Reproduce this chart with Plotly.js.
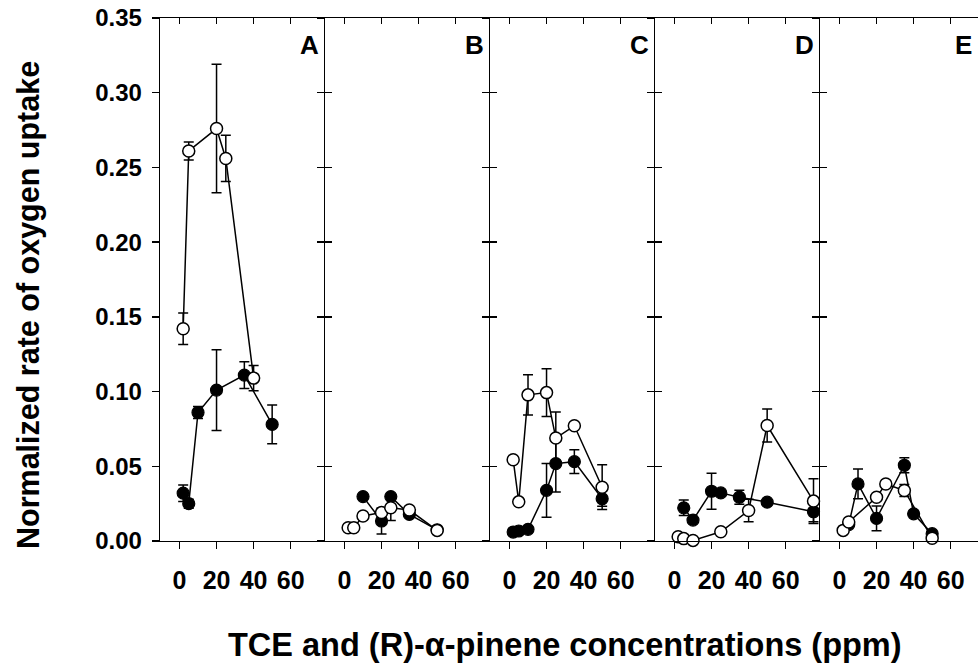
<!DOCTYPE html>
<html>
<head>
<meta charset="utf-8">
<script src="https://cdn.plot.ly/plotly-3.0.1.min.js"></script>
<style>
html, body { margin: 0; padding: 0; background: #fff; overflow: hidden; }
#chart { width: 978px; height: 665px; }
</style>
</head>
<body>
<div id="chart"></div>
<script>
// ---- data ----
const panelLabels = ["A", "B", "C", "D", "E"];
const xTickVals = [0, 20, 40, 60];
const xTickText = ["0", "20", "40", "60"];
const yTickVals = [0, 0.05, 0.10, 0.15, 0.20, 0.25, 0.30, 0.35];

// Panel A
const aFilledX = [2, 5, 10, 20, 35, 50];
const aFilledY = [0.032, 0.025, 0.086, 0.101, 0.111, 0.078];
const aFilledErr = [0.0055, 0.003, 0.004, 0.027, 0.009, 0.013];
const aOpenX = [2, 5, 20, 25, 40];
const aOpenY = [0.142, 0.261, 0.276, 0.256, 0.109];
const aOpenErr = [0.0105, 0.006, 0.043, 0.0155, 0.0085];

// Panel B
const bFilledX = [10, 20, 25, 35, 50];
const bFilledY = [0.0297, 0.0134, 0.0297, 0.0178, 0.0075];
const bFilledErr = [0, 0.0087, 0, 0, 0];
const bOpenX = [2, 5, 10, 20, 25, 35, 50];
const bOpenY = [0.0089, 0.0089, 0.0167, 0.019, 0.0223, 0.0207, 0.0071];
const bOpenErr = [0, 0, 0, 0, 0.0085, 0, 0];

// Panel C
const cFilledX = [2, 5, 10, 20, 25, 35, 50];
const cFilledY = [0.006, 0.0067, 0.0078, 0.0339, 0.0518, 0.0531, 0.0283];
const cFilledErr = [0, 0, 0, 0.018, 0.019, 0.008, 0.005];
const cOpenX = [2, 5, 10, 20, 25, 35, 50];
const cOpenY = [0.0544, 0.0262, 0.0978, 0.0993, 0.0689, 0.0771, 0.036];
const cOpenErr = [0, 0, 0.0134, 0.016, 0.0174, 0, 0.015];

// Panel D
const dFilledX = [5, 10, 20, 25, 35, 50, 75];
const dFilledY = [0.0222, 0.014, 0.0333, 0.0322, 0.0293, 0.026, 0.0196];
const dFilledErr = [0.0052, 0, 0.012, 0, 0.0047, 0, 0.0067];
const dOpenX = [2, 5, 10, 25, 40, 50, 75];
const dOpenY = [0.0029, 0.0016, 0.0004, 0.0062, 0.0204, 0.0773, 0.0267];
const dOpenErr = [0, 0, 0, 0.002, 0.0075, 0.011, 0.015];

// Panel E
const eFilledX = [5, 10, 20, 35, 40, 50];
const eFilledY = [0.011, 0.0382, 0.0151, 0.0507, 0.0182, 0.0049];
const eFilledErr = [0, 0.010, 0.0083, 0.005, 0, 0];
const eOpenX = [2, 5, 20, 25, 35, 50];
const eOpenY = [0.0071, 0.0127, 0.0293, 0.0382, 0.0338, 0.0018];
const eOpenErr = [0, 0, 0, 0, 0.004, 0];

const panels = [
  {fx: aFilledX, fy: aFilledY, fe: aFilledErr, ox: aOpenX, oy: aOpenY, oe: aOpenErr},
  {fx: bFilledX, fy: bFilledY, fe: bFilledErr, ox: bOpenX, oy: bOpenY, oe: bOpenErr},
  {fx: cFilledX, fy: cFilledY, fe: cFilledErr, ox: cOpenX, oy: cOpenY, oe: cOpenErr},
  {fx: dFilledX, fy: dFilledY, fe: dFilledErr, ox: dOpenX, oy: dOpenY, oe: dOpenErr},
  {fx: eFilledX, fy: eFilledY, fe: eFilledErr, ox: eOpenX, oy: eOpenY, oe: eOpenErr}
];

// ---- layout geometry ----
const W = 978, H = 665;
const mL = 160, mT = 18, mB = 124;
const plotW = W - mL;          // 818
const panelPx = 165;
const xMin = -10.5, xMaxFull = 78.5;
const pxPerUnit = panelPx / (xMaxFull - xMin);
const LW = 1.3;

const fontMain = "Liberation Sans, Arial, Helvetica, sans-serif";

const traces = [];
const layout = {
  width: W, height: H,
  margin: {l: mL, r: 0, t: mT, b: mB, pad: 0},
  paper_bgcolor: "#fff", plot_bgcolor: "rgba(0,0,0,0)",
  showlegend: false,
  annotations: []
};

const toErr = arr => arr.map(v => (v > 0 ? v : NaN));

panels.forEach((p, i) => {
  const n = i + 1;
  const xs = n === 1 ? "" : String(n);
  const topN = n + 5;
  const d0 = (i * panelPx) / plotW;
  const d1 = Math.min(1, ((i + 1) * panelPx) / plotW);
  const widthPx = (d1 - d0) * plotW;
  const xMax = xMin + widthPx / pxPerUnit;

  traces.push({
    type: "scatter", mode: "lines+markers",
    x: p.fx, y: p.fy,
    xaxis: "x" + xs, yaxis: "y" + xs,
    line: {color: "#000", width: 1.5},
    marker: {symbol: "circle", size: 12, color: "#000", line: {color: "#000", width: 1.2}},
    error_y: {type: "data", array: toErr(p.fe), visible: true, color: "#000", thickness: 1.5, width: 5},
    cliponaxis: false, hoverinfo: "x+y"
  });
  traces.push({
    type: "scatter", mode: "lines+markers",
    x: p.ox, y: p.oy,
    xaxis: "x" + xs, yaxis: "y" + xs,
    line: {color: "#000", width: 1.5},
    marker: {symbol: "circle", size: 12, color: "#fff", line: {color: "#000", width: 1.5}},
    error_y: {type: "data", array: toErr(p.oe), visible: true, color: "#000", thickness: 1.5, width: 5},
    cliponaxis: false, hoverinfo: "x+y"
  });
  // invisible helper trace so the top overlay axis is drawn
  traces.push({
    type: "scatter", mode: "markers", x: [xMin], y: [0],
    xaxis: "x" + topN, yaxis: "y" + xs,
    marker: {opacity: 0, size: 1}, hoverinfo: "skip"
  });

  layout["xaxis" + xs] = {
    domain: [d0, d1], range: [xMin, xMax], anchor: "y" + xs,
    showgrid: false, zeroline: false, showline: true, linecolor: "#000", linewidth: LW,
    ticks: "outside", ticklen: 7, tickwidth: LW, tickcolor: "#000",
    tickmode: "array", tickvals: xTickVals, ticktext: xTickText,
    ticklabelstandoff: 10,
    tickfont: {family: fontMain, size: 25, color: "#000", weight: "bold"},
    fixedrange: true
  };
  layout["xaxis" + topN] = {
    domain: [d0, d1], range: [xMin, xMax], overlaying: "x" + xs, anchor: "y" + xs, side: "top",
    showgrid: false, zeroline: false, showline: true, linecolor: "#000", linewidth: LW,
    ticks: "inside", ticklen: 6, tickwidth: LW, tickcolor: "#000",
    tickmode: "array", tickvals: xTickVals, showticklabels: false,
    fixedrange: true
  };
  layout["yaxis" + xs] = {
    domain: [0, 1], range: [0, 0.35], anchor: "x" + xs,
    showgrid: false, zeroline: false, showline: true, linecolor: "#000", linewidth: LW,
    mirror: false,
    ticks: "outside", ticklen: 7, tickwidth: LW, tickcolor: "#000",
    tickmode: "array", tickvals: yTickVals, tickformat: ".2f",
    showticklabels: i === 0,
    ticklabelstandoff: 5,
    tickfont: {family: fontMain, size: 24, color: "#000", weight: "bold"},
    fixedrange: true
  };
  if (i > 0) {
    // inward ticks on the shared boundary (crossing ticks)
    const ovN = i + 5;
    layout["yaxis" + ovN] = {
      domain: [0, 1], range: [0, 0.35], anchor: "x" + xs, overlaying: "y" + xs, side: "left",
      showgrid: false, zeroline: false, showline: false,
      ticks: "inside", ticklen: 7, tickwidth: LW, tickcolor: "#000",
      tickmode: "array", tickvals: yTickVals, showticklabels: false,
      fixedrange: true
    };
    traces.push({
      type: "scatter", mode: "markers", x: [xMin], y: [0],
      xaxis: "x" + xs, yaxis: "y" + ovN,
      marker: {opacity: 0, size: 1}, hoverinfo: "skip"
    });
  }
  layout.annotations.push({
    xref: "x" + xs + " domain", yref: "y" + xs + " domain",
    x: 1, y: 1, xanchor: "right", yanchor: "top", xshift: -4, yshift: -10,
    text: panelLabels[i], showarrow: false,
    font: {family: fontMain, size: 26, color: "#000", weight: "bold"}
  });
});

layout.annotations.push({
  xref: "paper", yref: "paper",
  x: (565 - mL) / plotW, y: (H - mB - 645) / (H - mT - mB),
  xanchor: "center", yanchor: "middle",
  text: "TCE and (R)-\u03b1-pinene concentrations (ppm)", showarrow: false,
  font: {family: fontMain, size: 32.5, color: "#000", weight: "bold"}
});
layout.annotations.push({
  xref: "paper", yref: "paper",
  x: (28 - mL) / plotW, y: (H - mB - 305) / (H - mT - mB),
  xanchor: "center", yanchor: "middle", textangle: -90,
  text: "Normalized rate of oxygen uptake", showarrow: false,
  font: {family: fontMain, size: 30.5, color: "#000", weight: "bold"}
});

Plotly.newPlot("chart", traces, layout, {displayModeBar: false, staticPlot: true});
</script>
</body>
</html>
